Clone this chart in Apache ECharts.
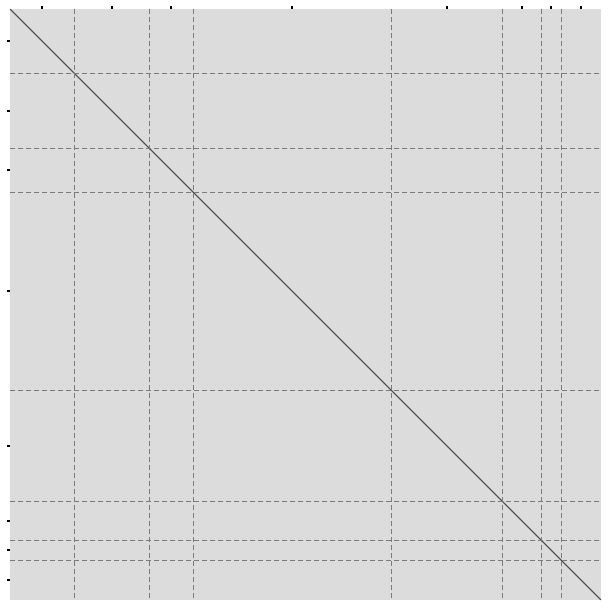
<!DOCTYPE html>
<html>
<head>
<meta charset="utf-8">
<script src="https://cdn.jsdelivr.net/npm/echarts@6/dist/echarts.min.js"></script>
<style>html,body{margin:0;padding:0;background:#fff;}#c{width:610px;height:610px;}</style>
</head>
<body>
<div id="c"></div>
<script>
// group sizes (items per block)
const groupSizes = [64, 75, 44, 198, 111, 39, 20, 40];
const total = groupSizes.reduce((a, b) => a + b, 0);
const boundaries = [];
const centers = [];
let acc = 0;
groupSizes.forEach((s, i) => {
  centers.push(acc + s / 2);
  acc += s;
  if (i < groupSizes.length - 1) boundaries.push(acc);
});
const diagonal = [[0, 0], [total, total]];

const chart = echarts.init(document.getElementById('c'), null, {renderer: 'canvas'});
const axisCommon = {
  type: 'value', min: 0, max: total,
  axisLine: {show: false},
  axisTick: {show: true, customValues: centers, length: 3, lineStyle: {color: '#000', width: 2}},
  axisLabel: {show: false},
  splitLine: {show: false}
};
const dash = {color: '#7a7a7a', width: 1, type: [5, 3]};
chart.setOption({
  animation: false,
  grid: {left: 10, top: 9, right: 9, bottom: 10, show: true, backgroundColor: '#dcdcdc', borderWidth: 0, containLabel: false},
  xAxis: Object.assign({}, axisCommon, {position: 'top'}),
  yAxis: Object.assign({}, axisCommon, {inverse: true, position: 'left'}),
  series: [{
    type: 'line',
    data: diagonal,
    symbol: 'none',
    lineStyle: {color: '#4a4a4a', width: 1.1},
    silent: true,
    markLine: {
      silent: true,
      symbol: 'none',
      label: {show: false},
      lineStyle: dash,
      data: boundaries.map(b => ({xAxis: b})).concat(boundaries.map(b => ({yAxis: b})))
    }
  }]
});
</script>
</body>
</html>
